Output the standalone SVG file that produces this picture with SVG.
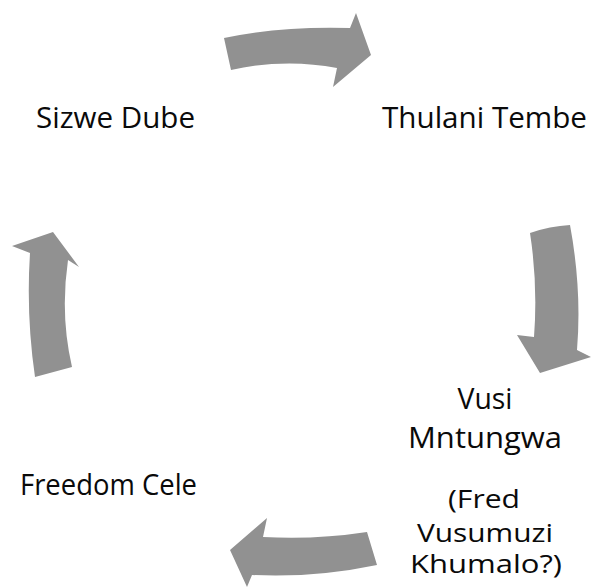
<svg xmlns="http://www.w3.org/2000/svg" width="592" height="588" viewBox="0 0 592 588">
<style>
.arrow{fill:#919191;stroke:none}
.lbl{font-family:"Open Sans","Liberation Sans",sans-serif;font-size:30px;fill:#0a0a0a}
.sm{font-size:25.5px}
.c{text-anchor:middle}
</style>
<rect width="592" height="588" fill="#fff"/>
<g id="connectors">
<path class="arrow" d="M224,38 Q280,26 350,28 L356,13 L371,55 L333,87 L337,68 Q285,58 231,70 Z"/>
<path class="arrow" d="M530,233 Q550,226 570,225 Q582,290 577,350 L591,357 L540,373 L517,335 L534,337 Q538,285 530,233 Z"/>
<path class="arrow" d="M35,377 Q26,315 30,253 L12,246 L53,232 L79,267 L68,260 Q60,315 72,367 Z"/>
<path class="arrow" d="M367,532 Q315,540 263,537 L267,518 L230,550 L247,587 L252,575 Q315,578 377,565 Z"/>
</g>
<g id="sizwe"><text class="lbl" x="36" y="128" textLength="159" lengthAdjust="spacingAndGlyphs">Sizwe Dube</text></g>
<g id="thulani"><text class="lbl" x="382" y="128" textLength="205" lengthAdjust="spacingAndGlyphs">Thulani Tembe</text></g>
<g id="freedom"><text class="lbl" x="20" y="495" textLength="177" lengthAdjust="spacingAndGlyphs">Freedom Cele</text></g>
<g id="vusi">
<text class="lbl c" x="485" y="409" textLength="55" lengthAdjust="spacingAndGlyphs">Vusi</text>
<text class="lbl c" x="485" y="448" textLength="154" lengthAdjust="spacingAndGlyphs">Mntungwa</text>
<text class="lbl sm c" x="484" y="508" textLength="72" lengthAdjust="spacingAndGlyphs">(Fred</text>
<text class="lbl sm c" x="485" y="542" textLength="136" lengthAdjust="spacingAndGlyphs">Vusumuzi</text>
<text class="lbl sm c" x="486" y="573" textLength="152" lengthAdjust="spacingAndGlyphs">Khumalo?)</text>
</g>
</svg>
